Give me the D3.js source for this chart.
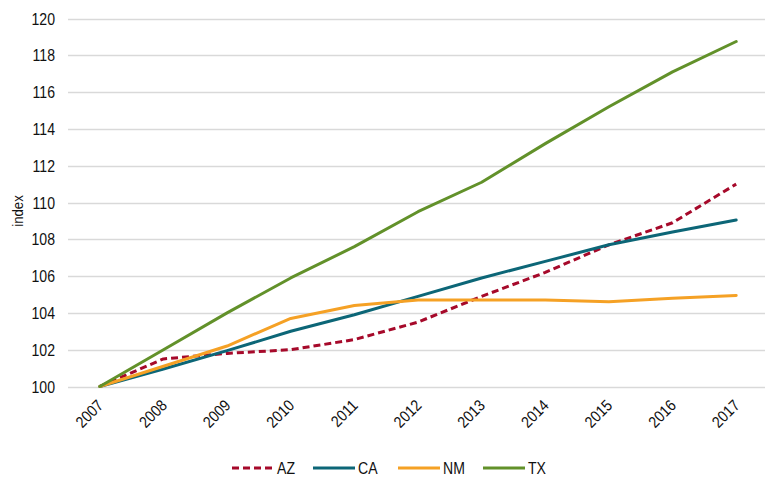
<!DOCTYPE html>
<html>
<head>
<meta charset="utf-8">
<script src="https://cdn.jsdelivr.net/npm/d3@7"></script>
<style>
  body { margin: 0; background: #fff; }
  svg { display: block; font-family: "Liberation Sans", Arial, sans-serif; }
</style>
</head>
<body>
<svg id="chart" width="765" height="478"></svg>
<script>
// Population index by state, 2007 = 100
const years = ["2007","2008","2009","2010","2011","2012","2013","2014","2015","2016","2017"];
const azValues = [100, 101.5, 101.8, 102.0, 102.55, 103.5, 104.9, 106.2, 107.7, 108.9, 111.0];
const caValues = [100, 100.95, 101.95, 103.0, 103.9, 104.9, 105.9, 106.8, 107.7, 108.4, 109.05];
const nmValues = [100, 101.1, 102.2, 103.7, 104.4, 104.7, 104.7, 104.7, 104.6, 104.8, 104.95];
const txValues = [100, 102.0, 104.0, 105.9, 107.6, 109.5, 111.1, 113.2, 115.2, 117.1, 118.75];
const yTicks = [100, 102, 104, 106, 108, 110, 112, 114, 116, 118, 120];

const seriesList = [
  { name: "AZ", values: azValues, color: "#a6092a", dash: "7,4" },
  { name: "CA", values: caValues, color: "#0c6677", dash: null },
  { name: "NM", values: nmValues, color: "#f5a125", dash: null },
  { name: "TX", values: txValues, color: "#62912a", dash: null }
];

const textColor = "#111";
const fontSize = "16px";
const narrow = "scale(0.88,1)";   // slightly condensed lettering

const svg = d3.select("#chart");
const plot = { left: 68, right: 768, top: 18.5, bottom: 386.5 };

const x = d3.scalePoint().domain(years).range([plot.left, plot.right]).padding(0.5);
const y = d3.scaleLinear().domain([100, 120]).range([plot.bottom, plot.top]);

// Horizontal gridlines
svg.append("g")
  .selectAll("line")
  .data(yTicks)
  .join("line")
  .attr("x1", plot.left)
  .attr("x2", plot.right)
  .attr("y1", d => Math.round(y(d)) + 0.5)
  .attr("y2", d => Math.round(y(d)) + 0.5)
  .attr("stroke", "#d9d9d9")
  .attr("stroke-width", 1.5);

// Y axis labels
const yAxis = d3.axisLeft(y).tickValues(yTicks).tickSize(0).tickPadding(0);
svg.append("g")
  .attr("transform", `translate(${plot.left},0)`)
  .call(yAxis)
  .call(g => g.select(".domain").remove())
  .call(g => g.selectAll("text")
    .style("font-size", fontSize)
    .style("font-family", "Liberation Sans, Arial, sans-serif")
    .attr("fill", textColor)
    .attr("x", 0)
    .attr("dy", "0.35em")
    .attr("text-anchor", "end")
    .attr("transform", `translate(-13,0) ${narrow}`));

// X axis labels, rotated
const xAxis = d3.axisBottom(x).tickSize(0).tickPadding(0);
svg.append("g")
  .attr("transform", `translate(0,${plot.bottom})`)
  .call(xAxis)
  .call(g => g.select(".domain").remove())
  .call(g => g.selectAll("text")
    .style("font-size", fontSize)
    .style("font-family", "Liberation Sans, Arial, sans-serif")
    .attr("fill", textColor)
    .attr("text-anchor", "end")
    .attr("y", 0)
    .attr("dy", null)
    .attr("transform", `translate(4,20) rotate(-45) ${narrow}`));

// Y axis title
svg.append("text")
  .attr("transform", `translate(23,211) rotate(-90) ${narrow}`)
  .attr("text-anchor", "middle")
  .style("font-size", "15px")
  .attr("fill", textColor)
  .text("index");

// Lines
const line = d3.line()
  .x((d, i) => x(years[i]))
  .y(d => y(d));

svg.append("g")
  .selectAll("path")
  .data(seriesList)
  .join("path")
  .attr("d", s => line(s.values))
  .attr("fill", "none")
  .attr("stroke", s => s.color)
  .attr("stroke-width", 3)
  .attr("stroke-linejoin", "round")
  .attr("stroke-linecap", s => s.dash ? "butt" : "round")
  .attr("stroke-dasharray", s => s.dash);

// Legend
const legendY = 468;
const legendX = [232, 313, 398, 483];
const legend = svg.append("g")
  .selectAll("g")
  .data(seriesList)
  .join("g")
  .attr("transform", (s, i) => `translate(${legendX[i]},${legendY})`);

legend.append("line")
  .attr("x1", 0).attr("x2", 42)
  .attr("y1", 0).attr("y2", 0)
  .attr("stroke", s => s.color)
  .attr("stroke-width", 3)
  .attr("stroke-dasharray", s => s.dash);

legend.append("text")
  .attr("transform", `translate(45,6) ${narrow}`)
  .style("font-size", fontSize)
  .attr("fill", textColor)
  .text(s => s.name);
</script>
</body>
</html>
